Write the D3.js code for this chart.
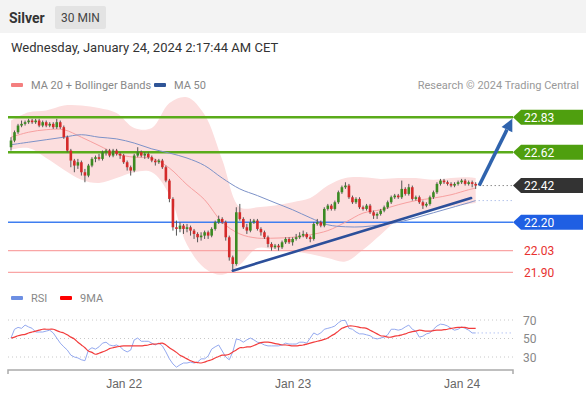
<!DOCTYPE html>
<html>
<head>
<meta charset="utf-8">
<script src="https://cdn.jsdelivr.net/npm/d3@7"></script>
<style>
  body { margin: 0; background: #fff; }
  svg { display: block; font-family: Roboto, "Liberation Sans", Arial, sans-serif; }
</style>
</head>
<body>
<svg width="586" height="397"></svg>
<script>
// candles, 30 min bars: [open, high, low, close]
var candles = [
  [22.65,22.71,22.63,22.69],[22.69,22.75,22.68,22.74],[22.74,22.79,22.73,22.78],[22.78,22.81,22.77,22.79],
  [22.79,22.81,22.78,22.80],[22.80,22.82,22.79,22.81],[22.81,22.82,22.79,22.80],[22.80,22.82,22.79,22.81],
  [22.81,22.82,22.77,22.78],[22.78,22.81,22.77,22.80],[22.80,22.81,22.77,22.78],[22.78,22.80,22.77,22.79],
  [22.79,22.80,22.76,22.77],[22.77,22.82,22.76,22.80],[22.80,22.81,22.76,22.77],[22.77,22.78,22.70,22.71],
  [22.71,22.72,22.62,22.63],[22.63,22.64,22.53,22.57],[22.57,22.58,22.50,22.54],[22.54,22.58,22.52,22.56],
  [22.56,22.57,22.48,22.50],[22.50,22.52,22.44,22.48],[22.48,22.55,22.47,22.54],[22.54,22.59,22.53,22.58],
  [22.58,22.60,22.56,22.59],[22.59,22.61,22.57,22.58],[22.58,22.63,22.57,22.62],[22.62,22.64,22.60,22.63],
  [22.63,22.64,22.59,22.60],[22.60,22.64,22.59,22.63],[22.63,22.64,22.60,22.61],[22.61,22.62,22.58,22.60],
  [22.60,22.61,22.55,22.56],[22.56,22.57,22.51,22.53],[22.53,22.54,22.48,22.51],[22.51,22.61,22.50,22.60],
  [22.60,22.65,22.59,22.62],[22.62,22.63,22.59,22.60],[22.60,22.62,22.58,22.61],[22.61,22.62,22.58,22.59],
  [22.59,22.60,22.56,22.57],[22.57,22.58,22.54,22.56],[22.56,22.58,22.55,22.57],[22.57,22.58,22.52,22.53],
  [22.53,22.54,22.44,22.45],[22.45,22.46,22.32,22.34],[22.34,22.35,22.15,22.17],[22.17,22.21,22.12,22.16],
  [22.16,22.20,22.14,22.18],[22.18,22.19,22.13,22.16],[22.16,22.19,22.14,22.17],[22.17,22.18,22.12,22.15],
  [22.15,22.16,22.10,22.13],[22.13,22.14,22.08,22.11],[22.11,22.14,22.09,22.12],[22.12,22.15,22.10,22.14],
  [22.14,22.15,22.10,22.12],[22.12,22.17,22.11,22.16],[22.16,22.21,22.15,22.20],[22.20,22.24,22.19,22.22],
  [22.22,22.23,22.19,22.20],[22.20,22.21,22.09,22.11],[22.11,22.12,21.97,21.99],[21.99,22.00,21.91,21.95],
  [21.95,22.29,21.94,22.26],[22.26,22.31,22.21,22.22],[22.22,22.23,22.16,22.17],[22.17,22.19,22.13,22.15],
  [22.15,22.22,22.14,22.20],[22.20,22.22,22.19,22.21],[22.21,22.22,22.15,22.16],[22.16,22.17,22.12,22.14],
  [22.14,22.15,22.10,22.11],[22.11,22.12,22.05,22.07],[22.07,22.08,22.03,22.05],[22.05,22.07,22.04,22.06],
  [22.06,22.07,22.03,22.05],[22.05,22.09,22.04,22.08],[22.08,22.11,22.07,22.10],[22.10,22.11,22.07,22.08],
  [22.08,22.11,22.06,22.10],[22.10,22.13,22.09,22.11],[22.11,22.14,22.10,22.12],[22.12,22.15,22.11,22.13],
  [22.13,22.14,22.10,22.11],[22.11,22.12,22.08,22.10],[22.10,22.20,22.09,22.19],[22.19,22.22,22.18,22.20],
  [22.20,22.21,22.17,22.18],[22.18,22.29,22.17,22.28],[22.28,22.31,22.27,22.30],[22.30,22.31,22.27,22.28],
  [22.28,22.33,22.27,22.32],[22.32,22.39,22.31,22.38],[22.38,22.42,22.37,22.41],[22.41,22.44,22.40,22.42],
  [22.42,22.43,22.34,22.35],[22.35,22.36,22.31,22.32],[22.32,22.35,22.31,22.34],[22.34,22.35,22.28,22.29],
  [22.29,22.30,22.27,22.28],[22.28,22.31,22.27,22.30],[22.30,22.31,22.25,22.26],[22.26,22.27,22.22,22.24],
  [22.24,22.26,22.22,22.25],[22.25,22.28,22.24,22.27],[22.27,22.30,22.26,22.29],[22.29,22.33,22.28,22.32],
  [22.32,22.36,22.31,22.35],[22.35,22.37,22.34,22.36],[22.36,22.37,22.34,22.35],[22.35,22.45,22.34,22.40],
  [22.40,22.41,22.36,22.37],[22.37,22.43,22.36,22.41],[22.41,22.42,22.33,22.34],[22.34,22.36,22.33,22.35],
  [22.35,22.36,22.31,22.32],[22.32,22.33,22.28,22.30],[22.30,22.32,22.29,22.31],[22.31,22.36,22.30,22.35],
  [22.35,22.39,22.34,22.38],[22.38,22.44,22.37,22.43],[22.43,22.46,22.42,22.45],[22.45,22.46,22.43,22.44],
  [22.44,22.45,22.42,22.43],[22.43,22.44,22.41,22.42],[22.42,22.44,22.41,22.43],[22.43,22.45,22.42,22.44],
  [22.44,22.46,22.43,22.45],[22.45,22.46,22.42,22.43],[22.43,22.45,22.42,22.44],[22.44,22.45,22.41,22.43],
  [22.43,22.44,22.40,22.42]
];

// indicator samples (bar index -> value)
var sampleIdx = [0,5,10,15,20,25,30,35,40,45,50,55,60,65,70,75,80,85,90,95,100,105,110,115,120,125,130,132];
var bbUpper = [22.81,22.86,22.87,22.90,22.90,22.885,22.855,22.765,22.765,22.915,22.95,22.845,22.575,22.29,
               22.29,22.30,22.32,22.345,22.42,22.465,22.47,22.46,22.465,22.465,22.455,22.465,22.47,22.465];
var bbLower = [22.635,22.645,22.585,22.515,22.455,22.435,22.465,22.50,22.50,22.365,22.065,21.925,21.885,21.945,
               22.045,22.035,22.025,22.01,21.985,21.965,22.035,22.125,22.215,22.25,22.275,22.295,22.31,22.315];
var ma20 = [22.71,22.74,22.755,22.755,22.71,22.66,22.61,22.59,22.585,22.525,22.425,22.335,22.20,22.13,
            22.105,22.105,22.11,22.125,22.15,22.20,22.255,22.275,22.305,22.33,22.345,22.365,22.395,22.405];
var ma50 = [22.665,22.68,22.695,22.71,22.725,22.71,22.70,22.675,22.64,22.615,22.585,22.54,22.465,22.40,
            22.36,22.317,22.275,22.227,22.185,22.173,22.173,22.185,22.20,22.227,22.257,22.287,22.317,22.33];

var rsi = [50.5,60,62,61,64.5,62.5,61,57,57,57,58,59,56,50.5,45,41,37.5,32,30,29,27,26,37.5,40,38.5,41,45,46,43,42,
           43,41,37.5,35.5,37.5,48.5,50.5,47,47,47,45,43,45,42,35.5,28,22.5,19,21.5,23.5,23.5,24.5,23.5,24.5,28,28,31,
           38.5,41,43,36.5,30,27,35.5,49.5,48.5,46,48.5,50.5,48.5,46,45,43,42,42,42,42,43,45,44,44,44,46,46,45,50.5,
           56,54,56,60,61,62,63.5,67,69.5,69.5,61,60,57,55,55,54,53,50.5,49.5,50.5,51.5,54,60,60,59,60,62.5,64.5,60,
           58,51.5,52.5,55,56,60,63.5,65.5,65,63.5,61,59,60,62.5,61,59,56,56];
var rsiMA = [50.5,51.5,53,54,54.5,56,57,58,59,60,60,60,60,58.5,57,56,54,51.5,49.5,46,43,40,36.5,35,33,34,35.5,37,
             39,40,41,41.5,42,42,42,42,42,42,42.5,43,44,44,44.5,45,43,40,37.5,35,32,30,28,26,24.5,24,23.5,24.5,26,
             27,29,30.5,32,32,33,35.5,37.5,40,40,41,41,42.5,44,45.5,46,46,45.5,44.5,44,43,43,42.5,42,42,42.5,43,44,
             45,46,47,48,49,50.5,53,55,58,61,62.5,63.5,63.5,63,62,61.5,61,59,57,55,53,52.5,51.5,51.5,52.5,53,54,55,
             56.5,57.5,58,59,58.5,58,58,58.5,59,59,59.5,60,61,61.5,62,62,62,61,61,61];

// key levels
var resistances = [22.83, 22.62];
var supports = [22.20];
var minorSupports = [22.03, 21.90];
var lastPrice = 22.42;
var trendFrom = [63, 21.91], trendTo = [130.7, 22.345];
var arrowFrom = [133, 22.42], arrowTo = [142.4, 22.82];
var dayTicks = [32, 80, 128];
var dayLabels = ['Jan 22', 'Jan 23', 'Jan 24'];
var rsiTicks = [70, 50, 30];

var svg = d3.select('svg');
var left = 8, right = 513;

var x = d3.scaleLinear().domain([-0.85, 142.6]).range([left, right]);
var y = d3.scaleLinear().domain([21.90, 22.83]).range([272.3, 117.2]);
var yR = d3.scaleLinear().domain([30, 70]).range([357, 320]);

// header
svg.append('rect').attr('x', 0).attr('y', 0).attr('width', 586).attr('height', 33).attr('fill', '#f3f3f3');
svg.append('text').attr('x', 9).attr('y', 23).attr('font-size', 14).attr('font-weight', 'bold')
   .attr('fill', '#333').text('Silver');
svg.append('rect').attr('x', 55).attr('y', 6).attr('width', 51).attr('height', 23).attr('rx', 2).attr('fill', '#e3e3e3');
svg.append('text').attr('x', 80.5).attr('y', 22).attr('text-anchor', 'middle').attr('font-size', 12)
   .attr('fill', '#444').text('30 MIN');
svg.append('text').attr('x', 11).attr('y', 52).attr('font-size', 13).attr('fill', '#333')
   .text('Wednesday, January 24, 2024 2:17:44 AM CET');

// legends
function legend(xs, yy, color, label) {
  svg.append('rect').attr('x', xs).attr('y', yy - 2).attr('width', 12).attr('height', 4).attr('rx', 1).attr('fill', color);
  svg.append('text').attr('x', xs + 20).attr('y', yy + 4).attr('font-size', 11).attr('fill', '#888').text(label);
}
legend(11, 85, '#f47f7f', 'MA 20 + Bollinger Bands');
legend(154, 85, '#2f5597', 'MA 50');
svg.append('text').attr('x', 579).attr('y', 89).attr('text-anchor', 'end').attr('font-size', 11)
   .attr('fill', '#999').text('Research \u00a9 2024 Trading Central');
legend(11, 298, '#6d8fe3', 'RSI');
legend(60, 298, '#f00', '9MA');

// bollinger band
var bandData = sampleIdx.map(function(d, i) { return { i: d, hi: bbUpper[i], lo: bbLower[i], m20: ma20[i], m50: ma50[i] }; });
svg.append('path').datum(bandData)
   .attr('fill', '#fcdede')
   .attr('d', d3.area().curve(d3.curveCatmullRom)
      .x(function(d) { return x(d.i); }).y0(function(d) { return y(d.lo); }).y1(function(d) { return y(d.hi); }));

// level lines
resistances.forEach(function(p) {
  svg.append('line').attr('x1', left).attr('x2', right).attr('y1', y(p)).attr('y2', y(p))
     .attr('stroke', '#5aab1a').attr('stroke-width', 2.5);
});
supports.forEach(function(p) {
  svg.append('line').attr('x1', left).attr('x2', right).attr('y1', y(p)).attr('y2', y(p))
     .attr('stroke', '#3f7ef0').attr('stroke-width', 1.3);
});
minorSupports.forEach(function(p) {
  svg.append('line').attr('x1', left).attr('x2', right).attr('y1', y(p)).attr('y2', y(p))
     .attr('stroke', '#f9a5a5').attr('stroke-width', 1.2);
});

// moving averages
svg.append('path').datum(bandData).attr('fill', 'none').attr('stroke', '#f7a0a0').attr('stroke-width', 1)
   .attr('d', d3.line().curve(d3.curveCatmullRom).x(function(d) { return x(d.i); }).y(function(d) { return y(d.m20); }));
svg.append('path').datum(bandData).attr('fill', 'none').attr('stroke', '#7d92c8').attr('stroke-width', 1)
   .attr('d', d3.line().curve(d3.curveCatmullRom).x(function(d) { return x(d.i); }).y(function(d) { return y(d.m50); }));

// candles
var bar = svg.append('g').selectAll('g').data(candles).enter().append('g');
bar.append('line')
   .attr('x1', function(d, i) { return x(i); }).attr('x2', function(d, i) { return x(i); })
   .attr('y1', function(d) { return y(d[1]); }).attr('y2', function(d) { return y(d[2]); })
   .attr('stroke', '#555').attr('stroke-width', 1);
bar.append('rect')
   .attr('x', function(d, i) { return x(i) - 1.3; })
   .attr('width', 2.6)
   .attr('y', function(d) { return y(Math.max(d[0], d[3])); })
   .attr('height', function(d) { return Math.max(1, Math.abs(y(d[0]) - y(d[3]))); })
   .attr('fill', function(d) { return d[3] >= d[0] ? '#3b8a22' : '#d42a2a'; });

// dotted extensions
var lastIdx = candles.length - 1;
svg.append('line').attr('x1', x(lastIdx) + 3).attr('x2', right).attr('y1', y(lastPrice)).attr('y2', y(lastPrice))
   .attr('stroke', '#555').attr('stroke-dasharray', '1,3');
svg.append('line').attr('x1', x(lastIdx) + 3).attr('x2', right)
   .attr('y1', y(ma50[ma50.length - 1])).attr('y2', y(ma50[ma50.length - 1]))
   .attr('stroke', '#8fa6e0').attr('stroke-dasharray', '1,3');

// trend line
svg.append('line').attr('x1', x(trendFrom[0])).attr('y1', y(trendFrom[1]))
   .attr('x2', x(trendTo[0])).attr('y2', y(trendTo[1]))
   .attr('stroke', '#2c4f9a').attr('stroke-width', 2.6).attr('stroke-linecap', 'round');

// forecast arrow
var ax1 = x(arrowFrom[0]), ay1 = y(arrowFrom[1]), ax2 = x(arrowTo[0]), ay2 = y(arrowTo[1]);
var ang = Math.atan2(ay2 - ay1, ax2 - ax1);
var hl = 12, hw = 6;
var bx = ax2 - hl * Math.cos(ang), by = ay2 - hl * Math.sin(ang);
svg.append('line').attr('x1', ax1).attr('y1', ay1).attr('x2', bx).attr('y2', by)
   .attr('stroke', '#2f63ad').attr('stroke-width', 3.5);
svg.append('path').attr('fill', '#2f63ad')
   .attr('d', 'M' + ax2 + ',' + ay2 +
              'L' + (bx + hw * Math.sin(ang)) + ',' + (by - hw * Math.cos(ang)) +
              'L' + (bx - hw * Math.sin(ang)) + ',' + (by + hw * Math.cos(ang)) + 'Z');

// price tags
function tag(p, color) {
  var yy = y(p);
  svg.append('path').attr('fill', color)
     .attr('d', 'M513,' + yy + 'L521,' + (yy - 7.5) + 'L583,' + (yy - 7.5) + 'L583,' + (yy + 7.5) + 'L521,' + (yy + 7.5) + 'Z');
  svg.append('text').attr('x', 524).attr('y', yy + 4.5).attr('font-size', 12).attr('fill', '#fff').text(p.toFixed(2));
}
resistances.forEach(function(p) { tag(p, '#4f9f0f'); });
tag(lastPrice, '#333');
supports.forEach(function(p) { tag(p, '#1f5fe3'); });
minorSupports.forEach(function(p) {
  svg.append('text').attr('x', 524).attr('y', y(p) + 4.5).attr('font-size', 12).attr('fill', '#e8312f').text(p.toFixed(2));
});

// RSI panel
rsiTicks.forEach(function(v) {
  svg.append('line').attr('x1', left).attr('x2', right).attr('y1', yR(v)).attr('y2', yR(v))
     .attr('stroke', '#c8c8c8').attr('stroke-dasharray', '1,3');
  svg.append('text').attr('x', 523).attr('y', yR(v) + 4.5).attr('font-size', 12).attr('fill', '#888').text(v);
});
svg.append('path').datum(rsi).attr('fill', 'none').attr('stroke', '#94a9ef').attr('stroke-width', 1)
   .attr('d', d3.line().x(function(d, i) { return x(i); }).y(function(d) { return yR(d); }));
svg.append('path').datum(rsiMA).attr('fill', 'none').attr('stroke', '#f23c3c').attr('stroke-width', 1.2)
   .attr('d', d3.line().curve(d3.curveCatmullRom).x(function(d, i) { return x(i); }).y(function(d) { return yR(d); }));
svg.append('line').attr('x1', x(lastIdx) + 2).attr('x2', right)
   .attr('y1', yR(rsi[lastIdx])).attr('y2', yR(rsi[lastIdx]))
   .attr('stroke', '#94a9ef').attr('stroke-dasharray', '1,3');

// time axis
var xAxis = d3.axisBottom(x).tickValues(dayTicks).tickSize(0).tickPadding(9)
   .tickFormat(function(d, i) { return dayLabels[i]; });
var gx = svg.append('g').attr('transform', 'translate(0,370)').call(xAxis);
gx.select('.domain').attr('stroke', '#aaa').attr('stroke-width', 1.5)
  .attr('d', 'M' + left + ',4V0H' + right + 'V4');
gx.selectAll('text').attr('font-size', 12).attr('fill', '#666').attr('font-family', null);
</script>
</body>
</html>
